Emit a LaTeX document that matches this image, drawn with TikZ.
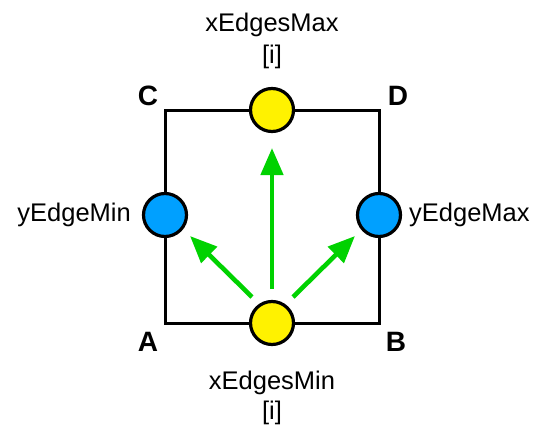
\documentclass[tikz,border=0pt]{standalone}
\usepackage{fontspec}
\setmainfont{Liberation Sans}
\usetikzlibrary{arrows.meta}
\begin{document}
\begin{tikzpicture}[x=1pt,y=-1pt,
  edge/.style={line width=3pt,draw=black},
  yellowdot/.style={circle,draw=black,line width=3.2pt,fill=yellow,minimum size=43pt,inner sep=0pt},
  bluedot/.style={circle,draw=black,line width=3.2pt,fill={rgb,255:red,0;green,160;blue,255},minimum size=43pt,inner sep=0pt},
  lbl/.style={font=\fontsize{25.5}{28}\selectfont,inner sep=0pt},
  corner/.style={font=\fontsize{28}{30}\selectfont\bfseries,inner sep=0pt},
  dir/.style={line width=4.6pt,draw={rgb,255:red,0;green,210;blue,0},-{Triangle[length=27pt,width=22pt]}}]
\useasboundingbox (0,0) rectangle (544,434);
% corners of the cell
\coordinate (A) at (165,323);
\coordinate (B) at (379,323);
\coordinate (C) at (165,110);
\coordinate (D) at (379,110);
\draw[edge,line join=miter] (A) -- (B) -- (D) -- (C) -- cycle;
% edge markers
\node[yellowdot] (xmin) at (272,323) {};
\node[yellowdot] (xmax) at (272,110) {};
\node[bluedot] (ymin) at (165,215) {};
\node[bluedot] (ymax) at (379,215) {};
% corner letters
\node[corner] (lA) at (148,342) {A};
\node[corner] (lB) at (396,342) {B};
\node[corner] (lC) at (148,96) {C};
\node[corner] (lD) at (398,96) {D};
% labels
\node[lbl] (tmax) at (272,25) {xEdgesMax};
\node[lbl] (tmaxi) at (272,57) {[i]};
\node[lbl] (tmin) at (272,383) {xEdgesMin};
\node[lbl] (tmini) at (272,413) {[i]};
\node[lbl,anchor=east] (tymin) at (131,215) {yEdgeMin};
\node[lbl,anchor=west] (tymax) at (409,215) {yEdgeMax};
% search directions
\coordinate (s0) at (272,289);
\coordinate (sl) at (252,297);
\coordinate (sr) at (293,297);
\coordinate (tu) at (272,148);
\coordinate (tl) at (190,236);
\coordinate (tr) at (355,236);
\draw[dir] (s0) -- (tu);
\draw[dir] (sl) -- (tl);
\draw[dir] (sr) -- (tr);
\end{tikzpicture}
\end{document}
